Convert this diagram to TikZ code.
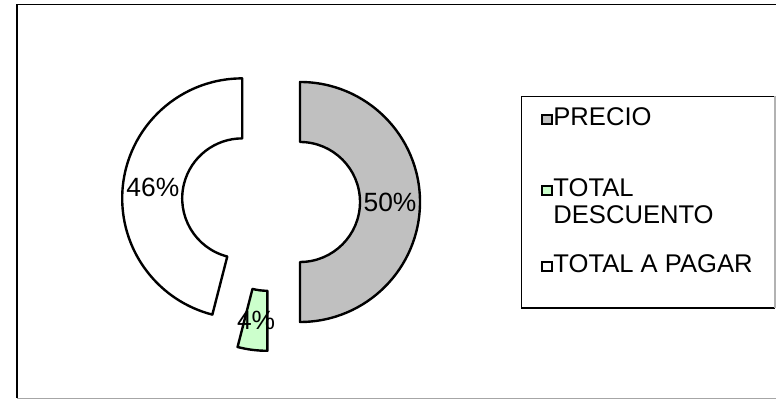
\documentclass[tikz,border=0pt]{standalone}
\usepackage{fontspec}
\setmainfont{Liberation Sans}
\definecolor{precio}{RGB}{192,192,192}
\definecolor{descuento}{RGB}{204,255,204}
\begin{document}
\begin{tikzpicture}[x=0.5pt,y=0.5pt,
  slice/.style={draw=black,line width=1.2pt,line join=round},
  pct/.style={font=\fontsize{13.2}{15}\selectfont,inner sep=0pt},
  legtxt/.style={font=\fontsize{12.8}{15}\selectfont,inner sep=0pt,anchor=base west},
  legkey/.style={draw=black,line width=0.9pt}]
\useasboundingbox (0,0) rectangle (776,400);
\fill[white] (0,0) rectangle (776,400);
% chart frame
\draw[black,line width=0.8pt] (776,395.5) -- (17,395.5) -- (17,1.5);
\draw[gray!70,line width=0.8pt] (17,1.5) -- (776,1.5);
% slice centres (exploded doughnut)
\coordinate (cp) at (300,198);
\coordinate (cw) at (242.2,201.6);
\coordinate (cd) at (267.4,169.2);
% PRECIO 50%
\draw[slice,fill=precio] ([shift={(90:120)}]cp) arc[start angle=90,end angle=-90,radius=120]
  -- ([shift={(-90:60)}]cp) arc[start angle=-90,end angle=90,radius=60] -- cycle;
% TOTAL A PAGAR 46%
\draw[slice,fill=white] ([shift={(90:120)}]cw) arc[start angle=90,end angle=255.6,radius=120]
  -- ([shift={(255.6:60)}]cw) arc[start angle=255.6,end angle=90,radius=60] -- cycle;
% TOTAL DESCUENTO 4%
\draw[slice,fill=descuento] ([shift={(-90:120)}]cd) arc[start angle=-90,end angle=-104.4,radius=120]
  -- ([shift={(-104.4:60)}]cd) arc[start angle=-104.4,end angle=-90,radius=60] -- cycle;
% data labels
\node[pct] (l50) at (390,198) {50\%};
\node[pct] (l46) at (152.9,212.9) {46\%};
\node[pct] (l4) at (256.1,79.9) {4\%};
% legend
\draw[black,line width=0.7pt] (775,303.5) -- (521.5,303.5) -- (521.5,92) -- (775,92);
\draw[gray!60,line width=0.7pt] (775,303.5) -- (775,92);
\draw[legkey,fill=precio] (542,276) rectangle (552,285);
\draw[legkey,fill=descuento] (542,205) rectangle (552,214);
\draw[legkey,fill=white] (542,129) rectangle (552,138);
\node[legtxt] (t1) at (553,274) {PRECIO};
\node[legtxt] (t2) at (553,203) {TOTAL};
\node[legtxt] (t2b) at (553,176) {DESCUENTO};
\node[legtxt] (t3) at (553,127) {TOTAL A PAGAR};
\end{tikzpicture}
\end{document}
